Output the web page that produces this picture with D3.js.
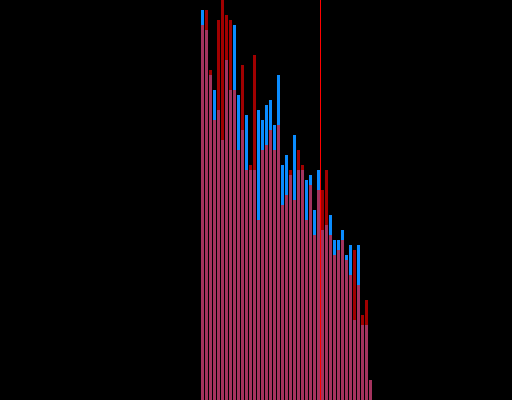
<!DOCTYPE html>
<html>
<head>
<meta charset="utf-8">
<script src="https://cdn.jsdelivr.net/npm/d3@7"></script>
<style>
  body { margin: 0; background: #000; }
  svg { display: block; }
</style>
</head>
<body>
<div id="viz"></div>
<script>
// bin counts (43 bins)
let blueCounts = [390, 370, 325, 310, 290, 260, 340, 310, 375, 305, 270, 285, 230, 230, 290, 280,
  295, 300, 275, 325, 235, 245, 225, 265, 230, 230, 220, 225, 190, 230, 170, 175, 185, 160, 160,
  170, 145, 155, 80, 155, 75, 75, 20]
let redCounts = [375, 390, 330, 280, 380, 400, 385, 380, 310, 250, 335, 230, 235, 345, 180, 250,
  255, 270, 250, 275, 195, 205, 230, 200, 250, 235, 180, 215, 165, 210, 210, 230, 165, 145, 150,
  160, 140, 125, 150, 115, 85, 100, 20]
let markerBin = 30

let w = 512;
let h = 400;

const svg = d3.select("#viz")
  .append("svg")
  .attr("width", w)
  .attr("height", h);

svg.append("rect")
  .attr("width", w)
  .attr("height", h)
  .attr("fill", "black")

const xScale = d3.scaleLinear()
  .domain([0, blueCounts.length])
  .range([200, 372]);

const yScale = d3.scaleLinear()
  .domain([0, 400])
  .range([h, 0]);

let binW = xScale(1) - xScale(0)

// blue histogram
svg.append("g")
  .selectAll("rect")
  .data(blueCounts)
  .enter()
  .append("rect")
  .attr("x", (d, i) => xScale(i) + 1)
  .attr("y", d => yScale(d))
  .attr("width", binW - 1)
  .attr("height", d => yScale(0) - yScale(d))
  .attr("fill", "#0a8cff")

// red histogram on top, semi transparent
svg.append("g")
  .selectAll("rect")
  .data(redCounts)
  .enter()
  .append("rect")
  .attr("x", (d, i) => xScale(i) + 1)
  .attr("y", d => yScale(d))
  .attr("width", binW - 1)
  .attr("height", d => yScale(0) - yScale(d))
  .attr("fill", "#ff0000")
  .attr("fill-opacity", 0.63)

// marker line
svg.append("line")
  .attr("x1", xScale(markerBin) + 0.5)
  .attr("x2", xScale(markerBin) + 0.5)
  .attr("y1", 0)
  .attr("y2", h)
  .attr("stroke", "red")
  .attr("stroke-width", 1)
</script>
</body>
</html>
